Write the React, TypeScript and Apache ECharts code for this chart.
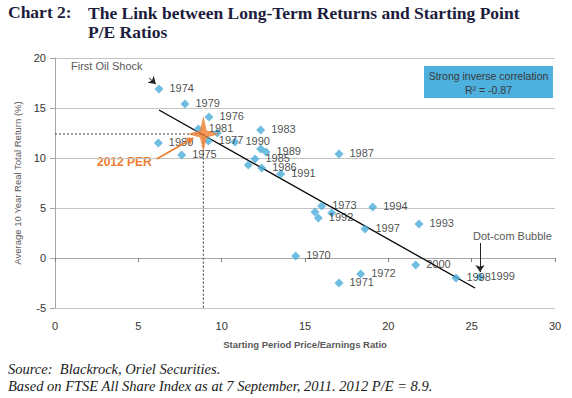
import React, { useEffect, useRef } from "react";
import * as echarts from "echarts";

// Labelled years
const years = ["1970","1971","1972","1973","1974","1975","1976","1977","1979","1980","1981","1983","1985","1986","1987","1989","1990","1991","1992","1993","1994","1997","1998","1999","2000"];
const peRatio = [14.44,17.04,18.34,16.0,6.24,7.6,9.24,9.2,7.8,6.2,8.6,12.34,12.0,12.4,17.04,12.66,10.8,13.54,15.8,21.84,19.06,18.6,24.06,25.5,21.64];
const realReturn = [0.2,-2.5,-1.6,5.2,16.9,10.3,14.1,11.7,15.4,11.5,12.9,12.8,9.9,9.0,10.4,10.6,11.6,8.4,4.0,3.4,5.1,2.9,-2.0,-1.9,-0.7];
// Unlabelled points
const unlabeledPE = [9.74,12.34,11.6,15.6,16.6];
const unlabeledReturn = [12.5,10.9,9.3,4.6,4.5];
// Trend line end points
const trendPE = [6.24,25.2];
const trendReturn = [14.8,-3.0];
// 2012 PER
const per2012 = 8.9;
const per2012Return = 12.4;
// Axis
const xMin = 0, xMax = 30, xStep = 5;
const yMin = -5, yMax = 20, yStep = 5;

const starPath = "path://M0,-16 L3.2,-3.2 L15,0 L3.2,3.2 L0,16 L-3.2,3.2 L-15,0 L-3.2,-3.2 Z";

export default function App() {
  const ref = useRef<HTMLDivElement>(null);
  useEffect(() => {
    if (!ref.current) return;
    document.body.style.margin = "0";
    const chart = echarts.init(ref.current, undefined, { renderer: "svg" });
    const labelled = years.map((y, i) => ({ name: y, value: [peRatio[i], realReturn[i]] }));
    const unlabelled = unlabeledPE.map((x, i) => [x, unlabeledReturn[i]]);
    const sans = "'Liberation Sans', Arial, sans-serif";
    const serif = "'Liberation Serif', 'Times New Roman', serif";
    chart.setOption({
      animation: false,
      backgroundColor: "#ffffff",
      grid: { left: 55, right: 17, top: 58, bottom: 90, containLabel: false },
      xAxis: [
        {
          type: "value", min: xMin, max: xMax, interval: xStep, position: "bottom",
          axisLine: { show: false, onZero: false }, axisTick: { show: false }, splitLine: { show: false },
          axisLabel: { color: "#333", fontSize: 11, fontFamily: sans, margin: 12 },
          name: "Starting Period Price/Earnings Ratio", nameLocation: "middle", nameGap: 31,
          nameTextStyle: { color: "#595959", fontSize: 9.5, fontWeight: "bold", fontFamily: sans },
        },
        {
          type: "value", min: xMin, max: xMax, interval: xStep, position: "top",
          axisLine: { show: true, onZero: true, lineStyle: { color: "#a6a6a6", width: 1 } },
          axisTick: { show: true, inside: true, length: 4, lineStyle: { color: "#808080" } },
          axisLabel: { show: false }, splitLine: { show: false },
        },
      ],
      yAxis: {
        type: "value", min: yMin, max: yMax, interval: yStep,
        axisLine: { show: true, lineStyle: { color: "#a6a6a6" } },
        axisTick: { show: true, length: 5, lineStyle: { color: "#a6a6a6" } },
        splitLine: { show: true, lineStyle: { color: "#c4c4c4", width: 1 } },
        axisLabel: { color: "#333", fontSize: 11, fontFamily: sans, margin: 9 },
        name: "Average 10 Year Real Total Return (%)", nameLocation: "middle", nameGap: 30,
        nameTextStyle: { color: "#595959", fontSize: 9.5, fontFamily: sans },
      },
      series: [
        {
          type: "line", data: [[xMin, per2012Return], [per2012, per2012Return], [per2012, yMin]],
          symbol: "none", lineStyle: { color: "#404040", width: 1, type: [2, 2] }, z: 1, silent: true,
        },
        {
          type: "line", data: trendPE.map((x, i) => [x, trendReturn[i]]),
          symbol: "none", lineStyle: { color: "#000", width: 1.3 }, z: 2, silent: true,
        },
        {
          type: "scatter", data: unlabelled, symbol: "diamond", symbolSize: 9,
          itemStyle: { color: "#4BACD8" }, z: 3,
        },
        {
          type: "scatter", data: labelled, symbol: "diamond", symbolSize: 9,
          itemStyle: { color: "#4BACD8" }, z: 3,
          label: {
            show: true, position: "right", distance: 6, formatter: "{b}",
            color: "#1a1a1a", fontSize: 11, fontFamily: sans, offset: [0, -1],
          },
          markLine: {
            silent: true, symbol: ["none", "arrow"], symbolSize: 7, label: { show: false },
            lineStyle: { type: "solid", width: 1 },
            data: [
              [{ coord: [5.65, 18.0], lineStyle: { color: "#222" } }, { coord: [6.05, 17.4] }],
              [{ coord: [25.5, 1.5], lineStyle: { color: "#222" } }, { coord: [25.5, -1.4] }],
              [{ coord: [6.1, 9.9], lineStyle: { color: "#EE7D2F", width: 1.5 } }, { coord: [8.3, 12.0] }],
            ],
          },
        },
        {
          type: "scatter", data: [[per2012, per2012Return]], symbol: starPath, symbolSize: [32, 36],
          itemStyle: { color: "#EE7D2F" }, z: 5,
        },
      ],
      graphic: [
        { type: "text", left: 8, top: 3, style: { text: "Chart 2:", font: `bold 17.5px ${serif}`, fill: "#1c1c3c" } },
        { type: "text", left: 88, top: 3, style: { text: "The Link between Long-Term Returns and Starting Point\nP/E Ratios", font: `bold 17.5px ${serif}`, fill: "#1c1c3c", lineHeight: 19 } },
        { type: "text", left: 71, top: 60, style: { text: "First Oil Shock", font: `11px ${sans}`, fill: "#595959" } },
        { type: "text", left: 97, top: 156, style: { text: "2012 PER", font: `bold 12px ${sans}`, fill: "#EE7D2F" } },
        { type: "text", left: 473, top: 230, style: { text: "Dot-com Bubble", font: `11px ${sans}`, fill: "#595959" } },
        { type: "rect", shape: { x: 424, y: 66, width: 129, height: 32 }, style: { fill: "#4DB0DD" } },
        { type: "text", x: 488.5, y: 76, style: { text: "Strong inverse correlation", font: `10.5px ${sans}`, fill: "#3a3a3a", textAlign: "center", textVerticalAlign: "middle" } },
        { type: "text", x: 488.5, y: 90, style: { text: "R² = -0.87", font: `10.5px ${sans}`, fill: "#3a3a3a", textAlign: "center", textVerticalAlign: "middle" } },
        { type: "text", left: 8, top: 361, style: { text: "Source:  Blackrock, Oriel Securities.", font: `italic 14.5px ${serif}`, fill: "#1a1a1a" } },
        { type: "text", left: 8, top: 378, style: { text: "Based on FTSE All Share Index as at 7 September, 2011. 2012 P/E = 8.9.", font: `italic 14.5px ${serif}`, fill: "#1a1a1a" } },
      ],
    });
    return () => chart.dispose();
  }, []);
  return <div ref={ref} style={{ position: "absolute", left: 0, top: 0, width: 572, height: 398 }} />;
}
